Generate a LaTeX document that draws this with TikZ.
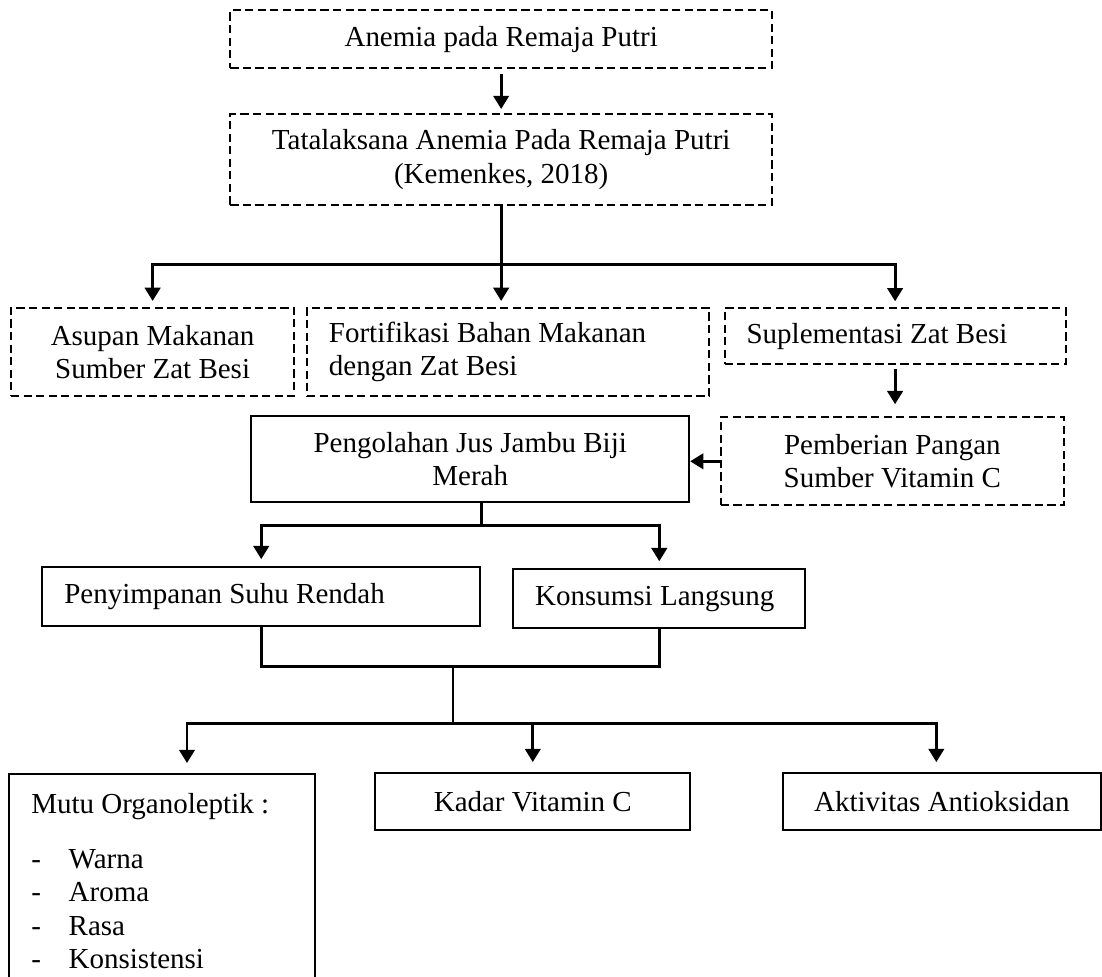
\documentclass[tikz,border=0pt]{standalone}
\usepackage{fontspec}
\setmainfont{Liberation Serif}
\usetikzlibrary{arrows.meta,calc,positioning}
\tikzset{
  dashbox/.style={draw, line width=0.8pt, dash pattern=on 3.4pt off 1.8pt, align=center, inner sep=0pt},
  plainbox/.style={draw, line width=0.8pt, align=center, inner sep=0pt},
  leftpad/.style={align=flush left, inner xsep=0.32cm},
  link/.style={line width=1.2pt, line cap=rect},
  flow/.style={-{Triangle[length=5.5pt, width=6.4pt]}, line width=1.2pt, shorten >=2.5pt}
}

\begin{document}
\begin{tikzpicture}[x=1cm,y=1cm, font=\fontsize{12pt}{13.9pt}\selectfont]
  \useasboundingbox (0,0) rectangle (16.03,-14.21);

  % top chain
  \node[dashbox, minimum width=7.88cm, minimum height=0.84cm] (anemia) at (7.29,-0.57) {Anemia pada Remaja Putri};
  \node[dashbox, minimum width=7.88cm, minimum height=1.32cm] (tata) at (7.29,-2.32)
    {Tatalaksana Anemia Pada Remaja Putri\\(Kemenkes, 2018)};

  \node[dashbox, minimum width=4.12cm, minimum height=1.28cm] (asupan) at (2.22,-5.12) {Asupan Makanan\\Sumber Zat Besi};
  \node[dashbox, leftpad, text width=5.21cm, minimum height=1.28cm] (forti) at (7.39,-5.12)
    {Fortifikasi Bahan Makanan\\dengan Zat Besi};
  \node[dashbox, leftpad, text width=4.32cm, minimum height=0.81cm] (supl) at (13.02,-4.89) {Suplementasi Zat Besi};
  \node[dashbox, minimum width=4.99cm, minimum height=1.28cm] (pemb) at (12.98,-6.71) {Pemberian Pangan\\Sumber Vitamin C};

  % processing
  \node[plainbox, minimum width=6.37cm, minimum height=1.25cm] (olah) at (6.84,-6.68) {Pengolahan Jus Jambu Biji\\Merah};
  \node[plainbox, leftpad, text width=5.73cm, minimum height=0.86cm] (simpan) at (3.80,-8.68) {Penyimpanan Suhu Rendah};
  \node[plainbox, leftpad, text width=3.61cm, minimum height=0.86cm] (konsumsi) at (9.59,-8.71) {Konsumsi Langsung};

  % outcomes
  \node[plainbox, leftpad, text width=3.81cm, inner ysep=0.28cm, anchor=north] (mutu) at (2.36,-11.24)
    {Mutu Organoleptik :\\[8.9pt]
     \makebox[15.5pt][l]{-}Warna\\
     \makebox[15.5pt][l]{-}Aroma\\
     \makebox[15.5pt][l]{-}Rasa\\
     \makebox[15.5pt][l]{-}Konsistensi};
  \node[plainbox, minimum width=4.58cm, minimum height=0.84cm] (kadar) at (7.75,-11.66) {Kadar Vitamin C};
  \node[plainbox, minimum width=4.63cm, minimum height=0.84cm] (aktivitas) at (13.70,-11.66) {Aktivitas Antioksidan};

  % connectors
  \draw[flow, shorten <=2pt, shorten >=1.7pt] (anemia) -- (tata);

  \coordinate (bus1) at (0,-3.85);
  \draw[link] (tata.south) -- (tata.south |- bus1);
  \draw[link] (asupan.north |- bus1) -- (supl.north |- bus1);
  \foreach \n in {asupan,supl}
    {\draw[flow] (\n.north |- bus1) -- (\n.north);}
  \draw[flow] (tata.south |- bus1) -- (tata.south |- forti.north);

  \draw[flow, shorten <=1.7pt, shorten >=5pt] (supl.south) -- (supl.south |- pemb.north);
  \draw[flow, shorten >=0pt] (pemb.west) -- (pemb.west -| olah.east);

  \coordinate (bus2) at (0,-7.64);
  \coordinate (stub) at ($(olah.south)+(0.17,0)$);
  \draw[link] (stub) -- (stub |- bus2);
  \draw[link] (simpan.north |- bus2) -- (konsumsi.north |- bus2);
  \foreach \n in {simpan,konsumsi}
    {\draw[flow, shorten >=2.9pt] (\n.north |- bus2) -- (\n.north);}

  \coordinate (bus3) at (0,-9.69);
  \draw[link] (simpan.south) -- (simpan.south |- bus3) -| (konsumsi.south);

  \coordinate (trunk) at (6.59,-9.69);
  \coordinate (left4) at (2.72,-10.53);
  \coordinate (right4) at (13.62,-10.53);
  \draw[link] (trunk) -- (trunk |- left4);
  \draw[link] (left4) -- (right4);
  \draw[flow, shorten >=4pt] (left4) -- (left4 |- mutu.north);
  \draw[flow, shorten >=4pt] (kadar.north |- left4) -- (kadar.north);
  \draw[flow, shorten >=4pt] (right4) -- (right4 |- aktivitas.north);
\end{tikzpicture}
\end{document}
